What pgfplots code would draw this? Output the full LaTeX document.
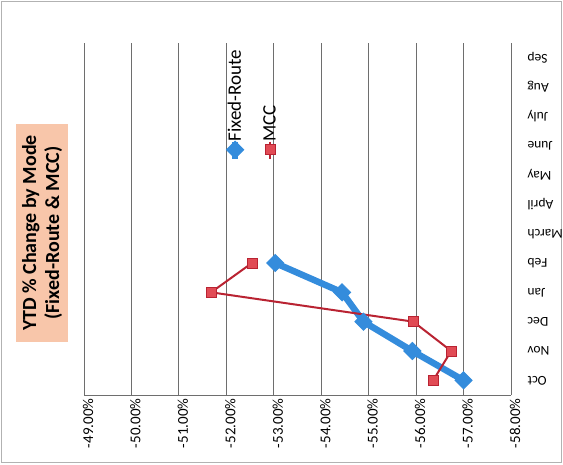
\documentclass[border=0pt]{standalone}
\usepackage{pgfplots}
\pgfplotsset{compat=1.18}
\usepackage{fontspec}
\setmainfont{Carlito}

\definecolor{frblue}{RGB}{52,140,220}
\definecolor{mccred}{RGB}{185,35,50}
\definecolor{mccfill}{RGB}{225,75,85}
\definecolor{titlebg}{RGB}{248,198,170}
\definecolor{gridc}{RGB}{110,110,110}

\begin{document}
\begin{tikzpicture}
\useasboundingbox (0,0) rectangle (563pt,464pt);
\draw[gray!60, line width=1pt] (1.5pt,1.5pt) rectangle (561.5pt,462.5pt);
\node[rotate=90, fill=titlebg, inner xsep=11pt, inner ysep=6pt, align=center,
      font=\fontsize{20}{23}\selectfont\bfseries] at (42pt,231pt)
  {YTD \% Change by Mode\\(Fixed-Route \& MCC)};
\begin{axis}[
  at={(84pt,69pt)}, anchor=south west,
  scale only axis, width=427pt, height=352pt,
  x dir=reverse, xmin=-58, xmax=-49,
  ymin=-0.5, ymax=11.5,
  xtick={-58,-57,...,-49},
  ytick={0,...,11},
  yticklabels={Oct,Nov,Dec,Jan,Feb,March,April,May,June,July,Aug,Sep},
  axis x line*=bottom, axis y line*=right,
  axis line style={gridc, line width=0.8pt},
  major tick length=0pt,
  xmajorgrids, grid style={gridc, line width=0.8pt},
  /pgf/number format/assume math mode=true,
  xticklabel={\pgfmathprintnumber[fixed,fixed zerofill,precision=2]{\tick}\%},
  xticklabel style={rotate=90, anchor=east, font=\fontsize{15}{18}\selectfont, yshift=-4pt},
  yticklabel style={rotate=180, anchor=east, font=\fontsize{13.5}{16}\selectfont, xshift=-13pt},
  legend columns=2,
  legend cell align=left,
  legend style={at={(0.330,0.719)}, anchor=south west, draw=none, fill=none,
    inner sep=0pt, column sep=0pt,
    /tikz/every even column/.style={column sep=15pt},
    nodes={rotate=90, anchor=west, inner sep=0pt, minimum height=20pt},
    font=\fontsize{19}{21}\selectfont},
  legend image code/.code={%
    \begin{pgfinterruptboundingbox}
    \draw[#1, mark=none] (10pt,0pt) -- (10pt,-17pt);
    \draw[#1] plot[only marks] coordinates {(10pt,-8pt)};
    \end{pgfinterruptboundingbox}},
]
\addplot[frblue, line width=6.5pt, mark=square*, mark size=6pt,
  mark options={fill=frblue, rotate=45, line width=1pt}]
  coordinates {(-57.00,0) (-55.92,1) (-54.89,2) (-54.44,3) (-53.03,4)};
\addlegendentry{Fixed-Route}
\addplot[mccred, line width=2pt, mark=square*, mark size=5pt,
  mark options={fill=mccfill, draw=mccred, line width=0.8pt}]
  coordinates {(-56.36,0) (-56.74,1) (-55.94,2) (-51.68,3) (-52.54,4)};
\addlegendentry{MCC}
\end{axis}
\end{tikzpicture}
\end{document}
